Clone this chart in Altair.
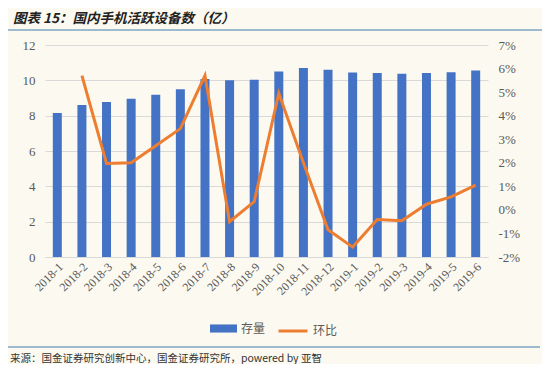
import altair as alt
import pandas as pd

months = ["2018-1", "2018-2", "2018-3", "2018-4", "2018-5", "2018-6", "2018-7", "2018-8", "2018-9",
          "2018-10", "2018-11", "2018-12", "2019-1", "2019-2", "2019-3", "2019-4", "2019-5", "2019-6"]
stock = [8.15, 8.6, 8.78, 8.96, 9.19, 9.5, 10.07, 10.0, 10.04,
         10.5, 10.7, 10.6, 10.45, 10.42, 10.37, 10.42, 10.46, 10.55]
mom = [None, 5.7, 1.97, 2.0, 2.72, 3.45, 5.7, -0.5, 0.35,
       4.95, 2.0, -0.84, -1.58, -0.41, -0.46, 0.24, 0.55, 1.05]

title_text = "图表 15：国内手机活跃设备数（亿）"
source_text = "来源：国金证券研究创新中心，国金证券研究所，powered by 亚智"

df = pd.DataFrame({"month": months, "stock": stock, "mom": mom,
                   "s1": ["存量"] * len(months), "s2": ["环比"] * len(months)})

W, H = 443, 212
serif = "Liberation Serif"
cjk = "Noto Sans CJK SC"
blue = "#4472C4"
orange = "#ED7D31"
lab = "#595959"

xenc = alt.X("month:N", sort=months, title=None,
             scale=alt.Scale(paddingInner=0, paddingOuter=0),
             axis=alt.Axis(labelAngle=-45, labelFont=serif, labelFontSize=12, labelColor=lab,
                           ticks=False, domainColor="#D9D9D9", labelPadding=4))

bars = alt.Chart(df).mark_bar(size=9).encode(
    x=xenc,
    y=alt.Y("stock:Q", title=None,
            scale=alt.Scale(domain=[0, 12], nice=False),
            axis=alt.Axis(values=[0, 2, 4, 6, 8, 10, 12], labelFont=serif, labelFontSize=13,
                          labelColor=lab, ticks=False, domain=False, gridColor="#D9D9D9",
                          labelPadding=10)),
    fill=alt.Fill("s1:N", title=None,
                  scale=alt.Scale(domain=["存量"], range=[blue]),
                  legend=alt.Legend(orient="none", legendX=165, legendY=270,
                                    symbolType="M-1,-0.3H1V0.3H-1Z", symbolSize=729,
                                    labelFont=cjk, labelFontSize=12, labelColor=lab,
                                    symbolStrokeWidth=0)),
)

line = alt.Chart(df).mark_line(strokeWidth=3).encode(
    x=alt.X("month:N", sort=months),
    y=alt.Y("mom:Q", title=None,
            scale=alt.Scale(domain=[-2, 7], nice=False),
            axis=alt.Axis(orient="right", values=list(range(-2, 8)), labelExpr="datum.value + '%'",
                          labelFont=serif, labelFontSize=13, labelColor=lab, ticks=False,
                          domain=False, grid=False, labelPadding=10)),
    stroke=alt.Stroke("s2:N", title=None,
                      scale=alt.Scale(domain=["环比"], range=[orange]),
                      legend=alt.Legend(orient="none", legendX=232, legendY=270,
                                        symbolType="stroke", symbolSize=841, symbolStrokeWidth=3,
                                        labelFont=cjk, labelFontSize=12, labelColor=lab)),
)

one = alt.Data(values=[{}])
deco = alt.layer(
    alt.Chart(one).mark_text(text=title_text, font=cjk, fontSize=13.5, fontWeight="bold",
                             fontStyle="italic", align="left", baseline="middle", color="#222222")
    .encode(x=alt.value(-32), y=alt.value(-26)),
    alt.Chart(one).mark_rule(color="#7FA6C2", strokeWidth=1.5)
    .encode(x=alt.value(-37), x2=alt.value(497), y=alt.value(-15)),
    alt.Chart(one).mark_rule(color="#7FA6C2", strokeWidth=1.5)
    .encode(x=alt.value(-37), x2=alt.value(495), y=alt.value(302)),
    alt.Chart(one).mark_text(text=source_text, font=cjk, fontSize=10.5, align="left",
                             baseline="middle", color="#333333")
    .encode(x=alt.value(-35), y=alt.value(314)),
)

chart = alt.layer(bars, line, deco).resolve_scale(y="independent", fill="independent",
                                                  stroke="independent").properties(
    width=W, height=H,
    autosize=alt.AutoSizeParams(type="none"),
    padding={"left": 37, "top": 37, "right": 54, "bottom": 107},
    background="#FCFAF0",
).configure_view(stroke=None)

chart.save("out.html", embed_options={"renderer": "svg", "actions": False})
